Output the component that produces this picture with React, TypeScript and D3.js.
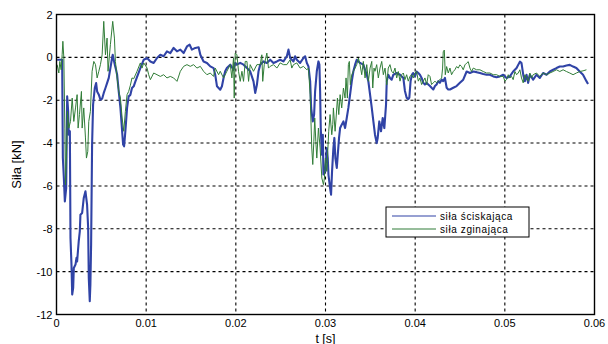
import React from "react";
import * as d3 from "d3";

const xTicks = [0, 0.01, 0.02, 0.03, 0.04, 0.05, 0.06];
const xTickLabels = ["0", "0.01", "0.02", "0.03", "0.04", "0.05", "0.06"];
const yTicks = [2, 0, -2, -4, -6, -8, -10, -12];
const yTickLabels = ["2", "0", "-2", "-4", "-6", "-8", "-10", "-12"];

const seriesNames = ["siła ściskająca", "siła zginająca"];

// time in ms
const blueT = [0.07, 0.63, 0.71, 0.82, 0.93, 1.08, 1.19, 1.3, 1.37, 1.49, 1.56, 1.67, 1.75, 1.86, 1.93, 2.12, 2.23, 2.3, 2.48, 2.6, 2.67, 2.86, 3.04, 3.23, 3.41, 3.53, 3.6, 3.71, 3.78, 3.86, 3.97, 4.08, 4.27, 4.42, 4.53, 4.72, 4.9, 5.09, 5.27, 5.46, 5.64, 5.83, 6.01, 6.2, 6.27, 6.38, 6.5, 6.64, 6.76, 6.94, 7.13, 7.32, 7.43, 7.54, 7.68, 7.87, 8.05, 8.24, 8.42, 8.61, 8.8,
  9.35, 9.73, 10.1, 10.47, 10.84, 11.21, 11.58, 11.95, 12.32, 12.69, 13.06, 13.44, 13.81, 14.18, 14.55, 14.85, 15.1, 15.48, 15.85, 16.04, 16.4, 16.78, 17.15, 17.52, 17.7, 17.9, 18.08, 18.26, 18.45, 18.63, 18.81, 19.0, 19.38, 19.74, 19.93, 20.12, 20.49, 20.86, 21.24, 21.6, 21.97, 22.16, 22.35, 22.53,
  22.72, 23.08, 23.46, 23.83, 24.2, 24.58, 24.94, 25.31, 25.69, 25.87, 26.06, 26.43, 26.61, 26.8, 27.17, 27.54, 27.73, 27.92, 28.1, 28.29, 28.4, 28.58, 28.73, 28.84, 29.03, 29.21, 29.32, 29.4, 29.47, 29.59, 29.7, 29.77, 29.96, 30.07, 30.14, 30.25, 30.33, 30.51, 30.62, 30.73, 30.88, 30.99, 31.1, 31.26, 31.37, 31.51, 31.63, 31.81, 32.0, 32.18, 32.37, 32.55, 32.74, 32.93, 33.11, 33.3, 33.48, 33.67, 33.85, 34.22, 34.41, 34.6, 34.78, 34.97, 35.16, 35.34, 35.52, 35.71, 35.82, 36.0, 36.19, 36.38, 36.56, 36.75, 36.83, 37.0, 37.19,
  37.38, 37.57, 37.94, 38.31, 38.68, 38.86, 39.05, 39.23, 39.35, 39.49, 39.64, 39.79, 39.98, 40.16, 40.35, 40.53, 40.72, 40.91, 41.09, 41.28, 41.46, 41.65, 41.83, 42.02, 42.21, 42.39, 42.58, 42.76, 42.95, 43.13, 43.32, 43.51, 43.69, 43.88, 44.25, 44.62, 44.99, 45.36, 45.74, 46.11, 46.48, 46.85, 47.22, 47.59, 47.96, 48.33, 48.71, 49.08, 49.45, 49.82, 50.19, 50.56, 50.93, 51.31, 51.49, 51.68, 51.86, 52.05, 52.23, 52.42, 52.6, 52.79, 53.16, 53.53, 53.9, 54.27, 54.65, 55.02, 55.39, 55.76, 56.13, 56.5, 56.87, 57.24, 57.61, 57.98, 58.35, 58.72, 58.91, 59.1, 59.28];
const blueV = [-0.11, -0.11, -4.7, -5.63, -6.72, -6.1, -1.82, -2.52, -3.61, -3.45, -8.43, -9.67, -11.07, -10.76, -9.83, -9.67, -9.36, -9.52, -8.58, -8.12, -7.34, -7.26, -6.56, -6.25, -6.87, -7.96, -10.3, -11.38, -10.6, -8.74, -4.07, -2.21, -1.43, -1.2, -1.59, -1.74, -1.98, -1.93, -1.66, -1.43, -1.2, -0.96, -0.5, -0.03, 0.12, -0.11, -0.34, -0.58, -0.81, -1.59, -2.36, -3.45, -4.07, -4.15, -3.45, -2.36, -1.82, -1.75, -1.43, -1.35, -1.12,
  -0.5, -0.11, -0.03, -0.19, -0.26, -0.03, 0.12, 0.05, 0.28, 0.2, 0.44, 0.28, 0.36, 0.2, 0.51, 0.59, 0.36, 0.44, 0.47, 0.12, -0.19, -0.26, -0.42, -0.5, -0.81, -1.35, -1.43, -1.51, -1.35, -0.96, -0.65, -0.5, -0.34, -0.58, -0.26, -0.34, -0.26, -0.34, -0.5, -0.65, -1.12, -1.66, -1.28, -0.65,
  -0.34, -0.19, -0.26, -0.11, -0.26, -0.19, -0.11, -0.19, 0.05, 0.36, -0.03, -0.19, 0.05, -0.11, -0.26, -0.03, 0.05, -0.26, -0.42, -1.12, -2.36, -2.99, -2.67, -1.59, -0.65, -0.19, -0.34, -1.59, -3.3, -4.54, -3.61, -5.47, -5.32, -4.7, -4.23, -4.7, -5.47, -6.1, -6.41, -5.32, -4.23, -3.76, -4.7, -5.16, -4.54, -3.76, -3.3, -3.14, -2.99, -3.3, -2.83, -2.36, -1.74, -1.12, -0.65, -0.34, -0.11, -0.19, -0.26, -0.34, -0.58, -0.81, -1.12, -1.74, -2.36, -2.99, -3.61, -4.0, -3.76, -2.99, -3.45, -2.83, -3.3, -2.21, -1.12, -0.81, -0.96,
  -1.04, -0.81, -0.73, -0.81, -0.96, -1.57, -1.88, -1.95, -1.88, -1.11, -0.81, -0.73, -0.89, -0.66, -0.73, -0.81, -0.96, -1.19, -1.27, -1.19, -1.27, -1.34, -1.42, -1.5, -1.34, -1.27, -1.11, -1.19, -1.04, -1.11, -0.96, -1.42, -1.5, -1.5, -1.42, -1.34, -1.19, -1.04, -0.66, -0.73, -0.66, -0.69, -0.73, -0.78, -0.81, -0.81, -0.89, -0.93, -0.89, -0.81, -0.96, -0.89, -0.66, -0.5, -0.35, -0.2, -0.27, -0.81, -1.11, -0.81, -1.19, -0.81, -1.04, -0.81, -0.96, -0.73, -0.81, -0.66, -0.58, -0.5, -0.43, -0.43, -0.38, -0.35, -0.43, -0.5, -0.66, -0.81, -0.96, -1.11, -1.24];

const greenT = [0.07, 0.26, 0.37, 0.52, 0.63, 0.71, 0.82, 0.93, 1.0, 1.11, 1.22, 1.37, 1.56, 1.75, 1.93, 2.12, 2.3, 2.41, 2.56, 2.78, 2.86, 3.04, 3.23, 3.34, 3.49, 3.6, 3.78, 3.97, 4.16, 4.35, 4.53, 4.72, 4.9, 5.09, 5.27, 5.46, 5.64, 5.75, 6.01, 6.27, 6.46, 6.57, 6.76, 6.94, 7.13, 7.32, 7.5, 7.68, 7.87, 8.05, 8.24, 8.42, 8.61, 8.98,
  9.35, 9.54, 9.73, 10.1, 10.28, 10.47, 10.84, 11.21, 11.58, 11.95, 12.32, 12.69, 13.06, 13.44, 13.81, 14.18, 14.55, 14.92, 15.29, 15.66, 16.04, 16.4, 16.78, 17.15, 17.52, 17.7, 18.08, 18.26, 18.63, 19.0, 19.38, 19.56, 19.74, 19.82, 19.93, 20.12, 20.3, 20.49, 20.68, 20.86, 21.05, 21.24, 21.42, 21.6, 21.97, 22.35,
  22.72, 22.9, 23.0, 23.17, 23.46, 23.64, 23.83, 24.2, 24.58, 24.94, 25.31, 25.69, 26.06, 26.24, 26.43, 26.8, 27.17, 27.54, 27.92, 28.1, 28.29, 28.47, 28.58, 28.7, 28.8, 28.92, 29.03, 29.21, 29.4, 29.59, 29.77, 29.88, 29.99, 30.14, 30.25, 30.36, 30.51, 30.7, 30.81, 30.88, 31.07, 31.18, 31.33, 31.48, 31.63, 31.81, 32.0, 32.18, 32.29, 32.44, 32.55, 32.66, 32.77, 32.93, 33.11, 33.3, 33.48, 33.67, 33.85, 34.04, 34.22, 34.41, 34.6, 34.78, 34.97, 35.16, 35.27, 35.41, 35.52, 35.71, 35.89, 36.08, 36.27, 36.45, 36.64, 36.83, 37.0, 37.19,
  37.38, 37.57, 37.75, 37.94, 38.12, 38.31, 38.49, 38.68, 38.86, 39.05, 39.23, 39.42, 39.6, 39.79, 39.98, 40.16, 40.35, 40.53, 40.72, 40.91, 41.09, 41.28, 41.46, 41.65, 41.83, 42.02, 42.21, 42.39, 42.58, 42.76, 42.95, 43.06, 43.13, 43.25, 43.36, 43.51, 43.69, 43.88, 44.06, 44.25, 44.43, 44.62, 44.81, 44.99, 45.18, 45.36, 45.55, 45.74, 45.92, 46.11, 46.29, 46.48, 46.85, 47.22, 47.59, 47.96, 48.33, 48.71, 49.08, 49.45, 49.82, 50.01, 50.19, 50.38, 50.56, 50.75, 50.93, 51.12, 51.31, 51.49, 51.68, 51.86, 52.05, 52.23, 52.42, 52.6, 52.79, 52.98, 53.16, 53.53, 53.9, 54.27, 54.65, 55.02, 55.39, 55.76, 56.13, 56.5, 56.87, 57.24, 57.61, 57.98, 58.35, 58.72, 59.1];
const greenV = [-0.34, -0.73, -0.19, -0.58, 0.12, 0.75, -0.03, -3.3, -5.94, -4.54, -2.52, -3.3, -2.99, -1.9, -2.99, -2.36, -1.74, -3.3, -2.67, -1.59, -3.3, -2.36, -3.76, -4.7, -4.39, -2.99, -2.52, -0.65, -0.19, -0.34, -0.96, -0.65, -0.34, 0.12, 1.68, 0.12, 0.9, -0.65, 0.59, 1.68, 0.9, -0.19, -0.96, -1.59, -1.9, -2.83, -3.45, -2.52, -1.74, -1.59, -1.3, -0.96, -1.0, -0.65,
  -0.26, -0.5, -0.26, -0.5, -0.81, -1.04, -0.73, -0.81, -0.89, -0.81, -0.96, -0.89, -0.96, -1.12, -0.65, -0.42, -0.34, -0.42, -0.34, -0.5, -0.42, -0.65, -0.81, -0.73, -0.89, -0.5, -0.81, -0.65, -0.96, -0.65, -0.34, -0.96, -0.03, -1.9, 0.2, 0.12, -0.65, -1.12, -0.65, -1.12, -0.19, -0.19, -1.12, -0.34, -0.65, -0.34,
  -0.34, 0.12, -1.12, -0.34, 0.2, -0.5, -0.42, -0.34, -0.5, -0.26, -0.34, -0.34, -0.11, -0.5, -0.34, -0.26, -0.5, -0.42, -0.58, -0.5, -1.74, -4.23, -5.0, -3.92, -2.83, -3.92, -4.7, -3.3, -4.23, -5.63, -5.94, -5.63, -4.7, -5.32, -4.39, -3.45, -2.67, -3.61, -3.14, -2.36, -3.45, -2.83, -1.9, -2.67, -1.74, -2.36, -1.43, -1.9, -0.96, -1.9, -0.34, -0.19, -1.28, -0.81, -0.65, -0.5, -0.34, -0.03, -0.34, -0.81, -0.19, -0.96, -0.34, -1.12, -0.5, -0.19, -1.43, -0.5, -0.65, -0.34, -0.96, -0.5, -0.19, -0.81, -0.5, -1.28, -0.5, -0.34,
  -0.66, -0.73, -0.5, -0.96, -0.66, -1.11, -0.81, -0.73, -1.04, -0.81, -1.11, -0.89, -0.81, -0.96, -0.73, -0.66, -1.11, -0.96, -1.27, -1.11, -0.96, -1.27, -0.81, -0.89, -1.27, -1.19, -1.11, -1.19, -1.11, -1.04, -0.96, -0.5, 0.26, 0.34, -0.81, -0.43, -0.73, -0.5, -0.81, -0.66, -0.58, -0.43, -0.5, -0.35, -0.43, -0.58, -0.35, -0.27, -0.2, -0.5, -0.66, -0.5, -0.58, -0.58, -0.66, -0.73, -0.73, -0.81, -0.81, -0.89, -0.89, -1.11, -1.04, -0.81, -0.96, -0.89, -1.04, -0.66, -0.81, -0.73, -0.58, -0.96, -1.19, -0.81, -0.96, -1.11, -0.73, -0.96, -0.81, -0.73, -0.89, -0.73, -0.81, -0.73, -0.66, -0.58, -0.66, -0.58, -0.66, -0.73, -0.81, -0.73, -0.66, -0.63, -0.58];

const W = 608;
const H = 344;
const margin = { left: 56.5, right: 13.5, top: 14.5, bottom: 29.5 };

export default function App() {
  const x = d3.scaleLinear().domain([0, 0.06]).range([margin.left, W - margin.right]);
  const y = d3.scaleLinear().domain([-12, 2]).range([H - margin.bottom, margin.top]);

  const blueData: [number, number][] = blueT.map((t, i) => [t / 1000, blueV[i]]);
  const greenData: [number, number][] = greenT.map((t, i) => [t / 1000, greenV[i]]);

  const line = d3
    .line<[number, number]>()
    .x((d) => x(d[0]))
    .y((d) => y(d[1]));

  const font = "'Liberation Sans', Arial, sans-serif";
  const x0 = x(0), x1 = x(0.06), y0 = y(2), y1 = y(-12);

  const lx = 386, ly = 207, lw = 143, lh = 30;

  return (
    <svg width={W} height={H} style={{ position: "absolute", left: 0, top: 0, background: "#fff" }} fontFamily={font}>
      <defs>
        <clipPath id="plotclip">
          <rect x={x0} y={y0} width={x1 - x0} height={y1 - y0} />
        </clipPath>
      </defs>
      <rect x={0} y={0} width={W} height={H} fill="#fff" />
      {/* grid */}
      {xTicks.slice(1, -1).map((t) => (
        <line key={"gx" + t} x1={x(t)} x2={x(t)} y1={y0} y2={y1} stroke="#000" strokeWidth={1.1} strokeDasharray="3,3" />
      ))}
      {yTicks.slice(1, -1).map((v) => (
        <line key={"gy" + v} x1={x0} x2={x1} y1={y(v)} y2={y(v)} stroke="#000" strokeWidth={1.1} strokeDasharray="3,3" />
      ))}
      {/* series */}
      <g clipPath="url(#plotclip)">
        <path d={line(blueData) || ""} fill="none" stroke="#3043a6" strokeWidth={2.1} strokeLinejoin="round" />
        <path d={line(greenData) || ""} fill="none" stroke="#317d38" strokeWidth={1} strokeLinejoin="round" />
      </g>
      {/* frame */}
      <rect x={x0} y={y0} width={x1 - x0} height={y1 - y0} fill="none" stroke="#000" strokeWidth={1.4} />
      {/* tick labels */}
      {xTicks.map((t, i) => (
        <text key={"xt" + t} x={x(t)} y={y1 + 12.5} textAnchor="middle" fontSize={11} fill="#000">
          {xTickLabels[i]}
        </text>
      ))}
      {yTicks.map((v, i) => (
        <text key={"yt" + v} x={x0 - 4} y={y(v) + 4} textAnchor="end" fontSize={11} fill="#000">
          {yTickLabels[i]}
        </text>
      ))}
      {/* axis labels */}
      <text x={(x0 + x1) / 2} y={342.5} textAnchor="middle" fontSize={12.5} fill="#000">
        t [s]
      </text>
      <text transform={`translate(21, ${(y0 + y1) / 2}) rotate(-90)`} textAnchor="middle" fontSize={13} fill="#000">
        Siła [kN]
      </text>
      {/* legend */}
      <rect x={lx} y={ly} width={lw} height={lh} fill="#fff" stroke="#000" strokeWidth={1} />
      <line x1={lx + 6} x2={lx + 50} y1={ly + 9} y2={ly + 9} stroke="#3043a6" strokeWidth={1.2} />
      <line x1={lx + 6} x2={lx + 50} y1={ly + 22} y2={ly + 22} stroke="#317d38" strokeWidth={1.2} />
      <text x={lx + 54} y={ly + 12.5} fontSize={10} letterSpacing={0.6} fill="#000">
        {seriesNames[0]}
      </text>
      <text x={lx + 54} y={ly + 25.5} fontSize={10} letterSpacing={0.6} fill="#000">
        {seriesNames[1]}
      </text>
    </svg>
  );
}
